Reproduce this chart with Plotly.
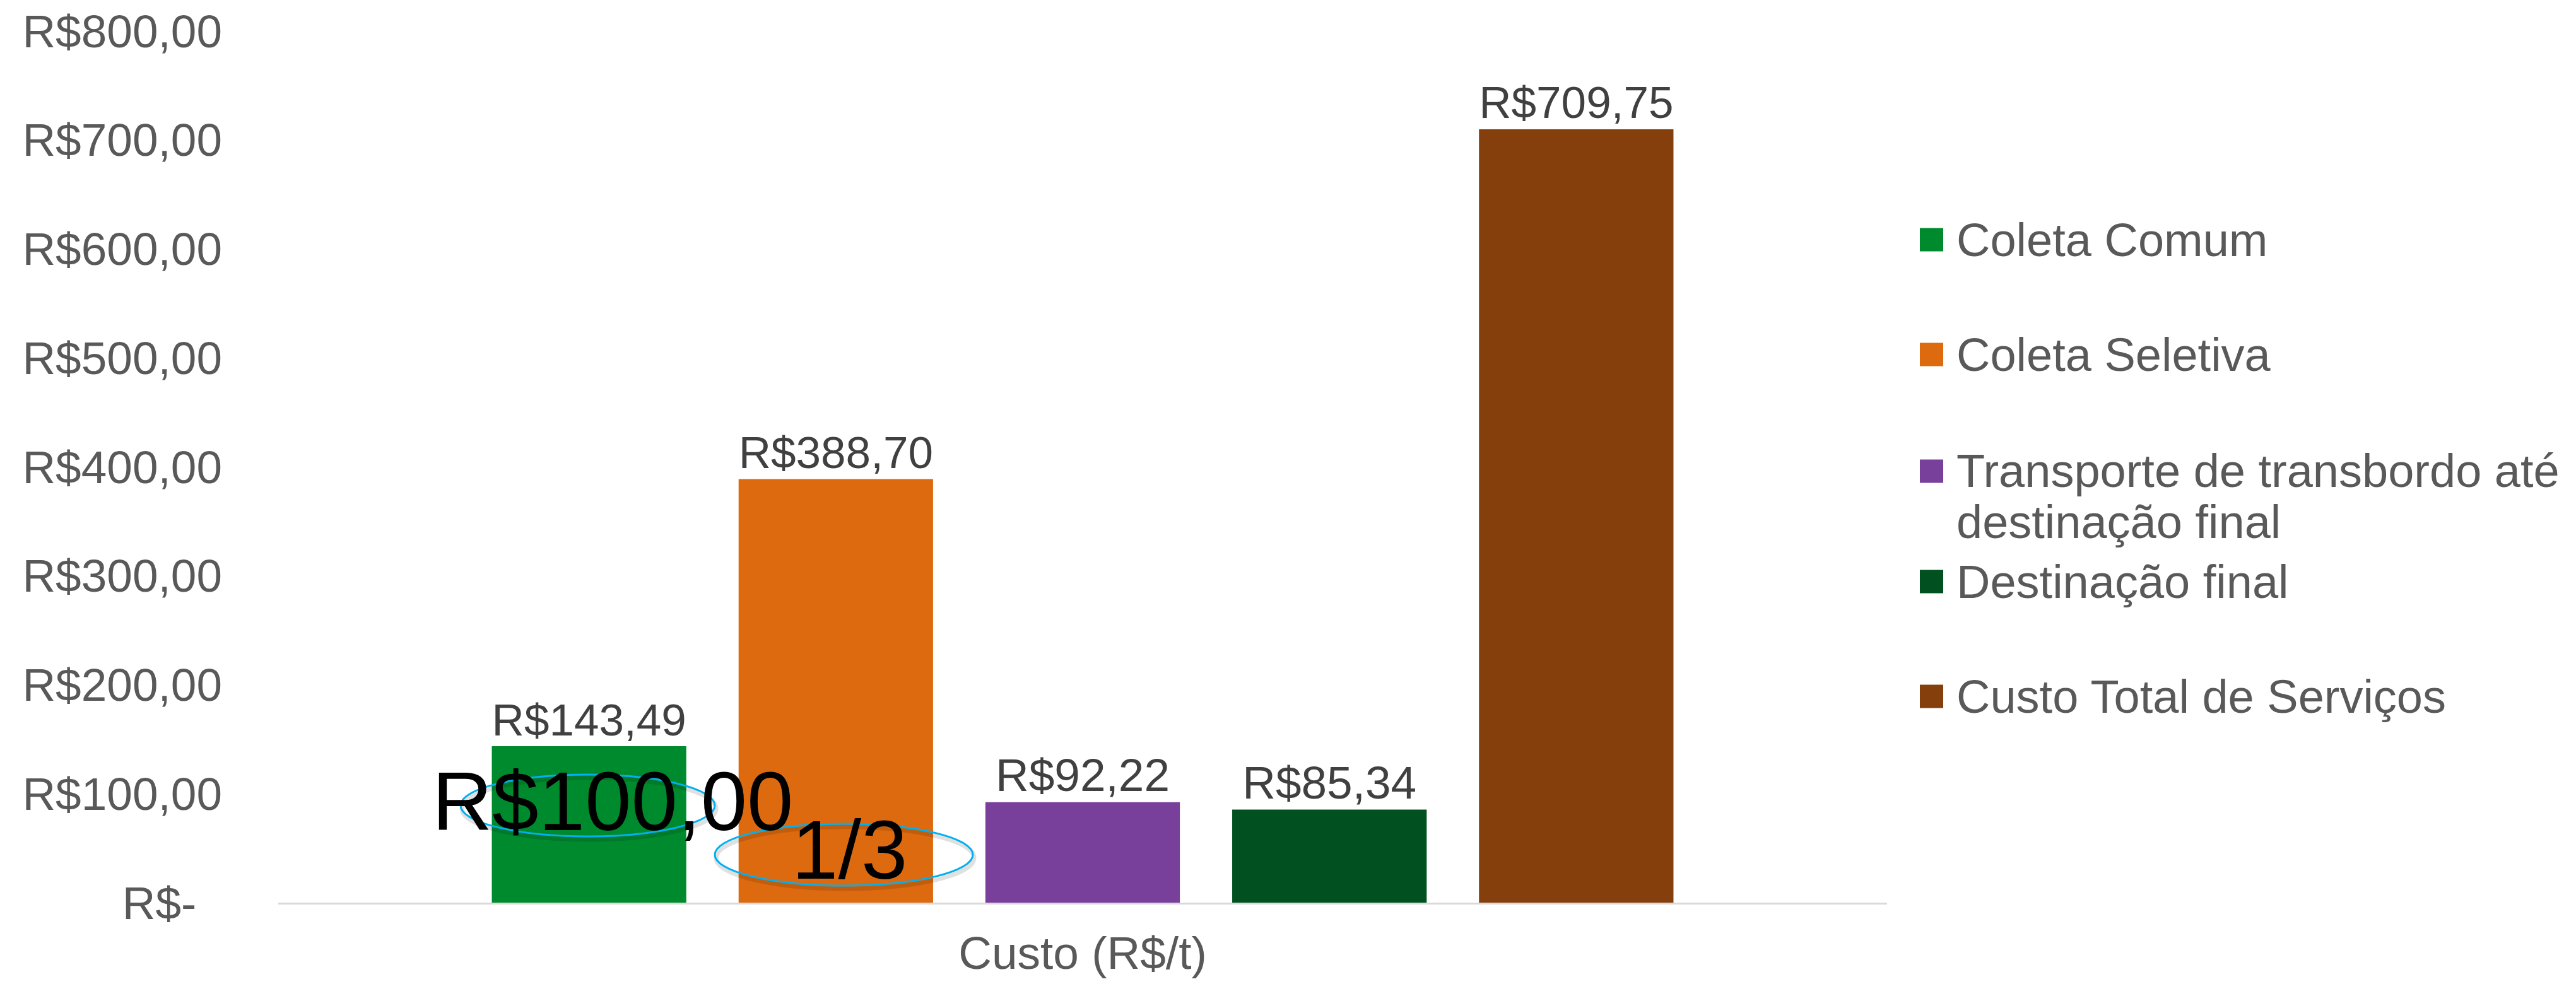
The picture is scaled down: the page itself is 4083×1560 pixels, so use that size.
import plotly.graph_objects as go

# ---------------- data ----------------
categories = ["Custo (R$/t)"]
series_names = [
    "Coleta Comum",
    "Coleta Seletiva",
    "Transporte de transbordo até destinação final",
    "Destinação final",
    "Custo Total de Serviços",
]
series_values = [143.49, 388.70, 92.22, 85.34, 709.75]
series_colors = ["#008A2E", "#DE6A10", "#783F9B", "#00511F", "#853F0C"]
legend_lines = [
    ["Coleta Comum"],
    ["Coleta Seletiva"],
    ["Transporte de transbordo até", "destinação final"],
    ["Destinação final"],
    ["Custo Total de Serviços"],
]
ytick_vals = [0, 100, 200, 300, 400, 500, 600, 700, 800]
ytick_text = ["R$-\u00a0\u00a0", "R$100,00", "R$200,00", "R$300,00", "R$400,00",
              "R$500,00", "R$600,00", "R$700,00", "R$800,00"]
overlay_texts = ["R$100,00", "1/3"]

# ---------------- layout geometry (reference pixels) ----------------
FONT = "Arial, 'Liberation Sans', sans-serif"
W, H = 4067, 1544           # page has 8px body margin
PL, PR, PT, PB = 441, 2991, 49, 1431   # plot area in screenshot pixels
OFF = 8


def px(x):
    return (x - PL) / (PR - PL)


def py(y):
    return (PB - y) / (PB - PT)


fig = go.Figure()
for name, val, col in zip(series_names, series_values, series_colors):
    fig.add_trace(go.Bar(
        x=categories, y=[val], name=name, marker=dict(color=col, line=dict(width=0)),
        texttemplate="R$%{y:,.2f}", textposition="outside", cliponaxis=False,
        textfont=dict(family=FONT, size=73, color="#404040"),
        showlegend=False, hoverinfo="skip",
    ))

shapes = []
annotations = []

# manual legend (large square markers)
legend_y = [380, 562, 747, 922, 1104]
line_step = 81
for lines, col, yc in zip(legend_lines, series_colors, legend_y):
    shapes.append(dict(type="rect", xref="paper", yref="paper",
                       x0=px(3043), x1=px(3080), y0=py(yc + 18.5), y1=py(yc - 18.5),
                       fillcolor=col, line=dict(width=0), layer="above"))
    for i, ln in enumerate(lines):
        annotations.append(dict(text=ln, xref="paper", yref="paper",
                                x=px(3099), y=py(yc + i * line_step),
                                xanchor="left", yanchor="middle", showarrow=False,
                                font=dict(family=FONT, size=74, color="#595959")))

# overlay ellipses with faint shadow
ellipses = [(730, 1133, 1228, 1326), (1133, 1542, 1306, 1404)]
for x0, x1, y0, y1 in ellipses:
    shapes.append(dict(type="circle", xref="paper", yref="paper",
                       x0=px(x0 + 2), x1=px(x1 + 2), y0=py(y1 + 5), y1=py(y0 + 5),
                       line=dict(color="rgba(0,0,0,0.12)", width=7), layer="above"))
    shapes.append(dict(type="circle", xref="paper", yref="paper",
                       x0=px(x0), x1=px(x1), y0=py(y1), y1=py(y0),
                       line=dict(color="#00B0F0", width=3), layer="above"))

overlay_pos = [(971, 1270), (1347, 1347)]
for txt, (cx, cy) in zip(overlay_texts, overlay_pos):
    annotations.append(dict(text=txt, xref="paper", yref="paper", x=px(cx), y=py(cy),
                            xanchor="center", yanchor="middle", showarrow=False,
                            font=dict(family=FONT, size=132, color="#000000")))

fig.update_layout(
    width=W, height=H,
    margin=dict(l=PL - OFF, r=W - (PR - OFF), t=PT - OFF, b=H - (PB - OFF), pad=0, autoexpand=False),
    paper_bgcolor="white", plot_bgcolor="white",
    barmode="group", bargap=0.233, bargroupgap=0.212,
    separators=",.",
    font=dict(family=FONT, color="#595959"),
    showlegend=False,
    shapes=shapes, annotations=annotations,
    xaxis=dict(showgrid=False, showline=True, linecolor="#D9D9D9", linewidth=3,
               ticks="", zeroline=False, ticklabelstandoff=14,
               tickfont=dict(family=FONT, size=73, color="#595959")),
    yaxis=dict(range=[0, 800], tickvals=ytick_vals, ticktext=ytick_text,
               showgrid=False, showline=False, zeroline=False, ticks="",
               ticklabelstandoff=88,
               tickfont=dict(family=FONT, size=73, color="#595959")),
)

fig.write_html("out.html", config={"displayModeBar": False})
